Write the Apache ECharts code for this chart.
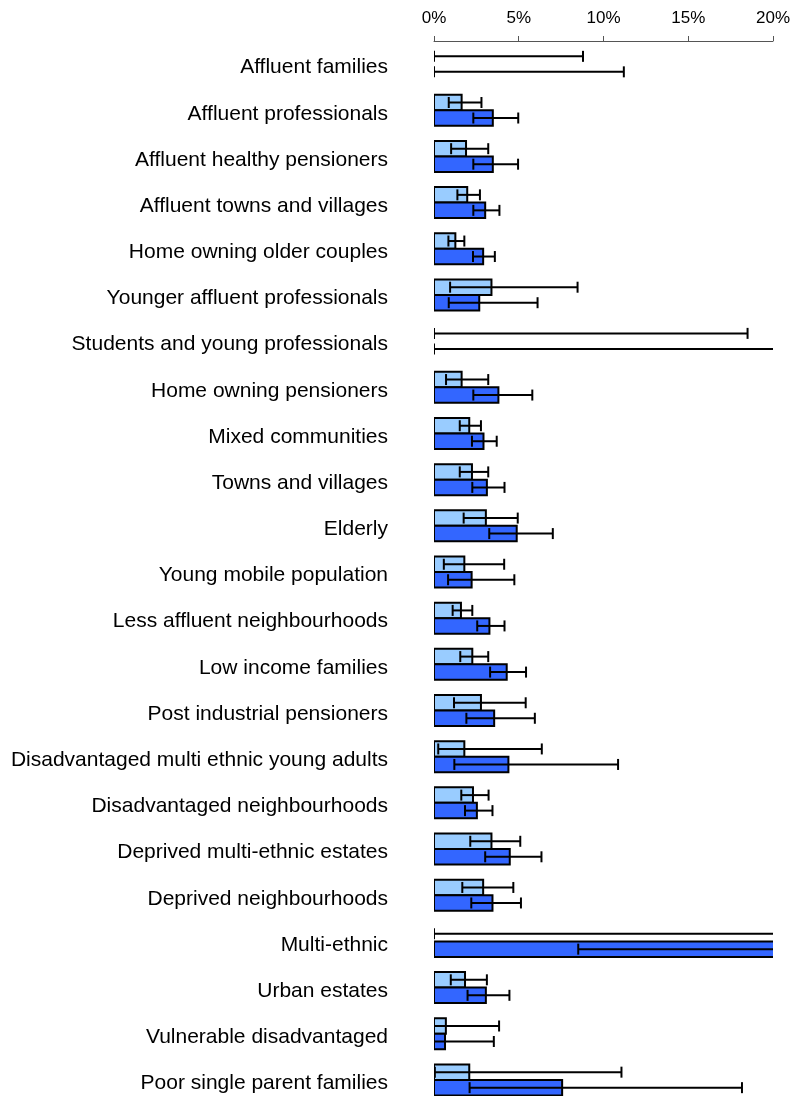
<!DOCTYPE html>
<html>
<head>
<meta charset="utf-8">
<script src="https://cdn.jsdelivr.net/npm/echarts@6/dist/echarts.min.js"></script>
<style>
html,body{margin:0;padding:0;background:#fff;overflow:hidden;}
#main{width:793px;height:1120px;}
</style>
</head>
<body>
<div id="main"></div>
<script>
var categories = [
  "Affluent families","Affluent professionals","Affluent healthy pensioners","Affluent towns and villages",
  "Home owning older couples","Younger affluent professionals","Students and young professionals",
  "Home owning pensioners","Mixed communities","Towns and villages","Elderly","Young mobile population",
  "Less affluent neighbourhoods","Low income families","Post industrial pensioners",
  "Disadvantaged multi ethnic young adults","Disadvantaged neighbourhoods","Deprived multi-ethnic estates",
  "Deprived neighbourhoods","Multi-ethnic","Urban estates","Vulnerable disadvantaged","Poor single parent families"
];
// light blue series (upper bar in each pair)
var lightValues = [0, 1.63, 1.89, 1.96, 1.26, 3.39, 0, 1.63, 2.08, 2.24, 3.06, 1.79, 1.59, 2.26, 2.77, 1.79, 2.30, 3.39, 2.90, 0, 1.83, 0.70, 2.08];
var lightLow    = [0, 0.87, 1.01, 1.38, 0.85, 0.95, 0, 0.71, 1.52, 1.52, 1.75, 0.58, 1.10, 1.55, 1.18, 0.25, 1.61, 2.14, 1.67, 0, 0.99, 0, 0.05];
var lightHigh   = [8.79, 2.80, 3.20, 2.71, 1.79, 8.47, 18.5, 3.20, 2.77, 3.20, 4.94, 4.14, 2.26, 3.20, 5.41, 6.36, 3.22, 5.09, 4.68, 40, 3.12, 3.84, 11.06];
// dark blue series (lower bar in each pair)
var blueValues = [0, 3.47, 3.47, 3.02, 2.90, 2.67, 0, 3.80, 2.92, 3.12, 4.88, 2.22, 3.27, 4.29, 3.55, 4.39, 2.53, 4.47, 3.45, 26, 3.06, 0.65, 7.56];
var blueLow    = [0, 2.32, 2.32, 2.32, 2.30, 0.87, 0, 2.32, 2.24, 2.26, 3.26, 0.83, 2.55, 3.31, 1.91, 1.20, 1.83, 3.02, 2.20, 8.51, 1.98, 0, 2.10];
var blueHigh   = [11.2, 4.97, 4.96, 3.86, 3.59, 6.11, 24, 5.80, 3.70, 4.16, 7.01, 4.74, 4.16, 5.43, 5.95, 10.86, 3.45, 6.34, 5.13, 50, 4.45, 3.53, 18.17];
var xTicks = [0, 5, 10, 15, 20];

var BAR_H = 15.5;
function makeSeries(name, color, vals, lows, highs, upper) {
  var data = categories.map(function (c, i) { return [vals[i], i, lows[i], highs[i]]; });
  return {
    type: 'custom', name: name, clip: true,
    encode: { x: 0, y: 1 },
    data: data,
    renderItem: function (params, api) {
      var v = api.value(0), i = api.value(1), lo = api.value(2), hi = api.value(3);
      var p0 = api.coord([0, i]);
      var pv = api.coord([v, i]);
      var pl = api.coord([lo, i]);
      var ph = api.coord([hi, i]);
      var cy = p0[1];
      var top = upper ? cy - BAR_H : cy;
      var mid = top + BAR_H / 2;
      var children = [];
      if (v > 0) {
        children.push({
          type: 'rect',
          shape: { x: p0[0], y: top, width: pv[0] - p0[0], height: BAR_H },
          style: { fill: color, stroke: '#000', lineWidth: 2 }
        });
      }
      var capH = 11;
      children.push({ type: 'line', shape: { x1: pl[0], y1: mid, x2: ph[0], y2: mid }, style: { stroke: '#000', lineWidth: 2 } });
      children.push({ type: 'line', shape: { x1: pl[0], y1: mid - capH / 2, x2: pl[0], y2: mid + capH / 2 }, style: { stroke: '#000', lineWidth: 2 } });
      children.push({ type: 'line', shape: { x1: ph[0], y1: mid - capH / 2, x2: ph[0], y2: mid + capH / 2 }, style: { stroke: '#000', lineWidth: 2 } });
      return { type: 'group', children: children };
    }
  };
}

var chart = echarts.init(document.getElementById('main'), null, { renderer: 'canvas' });
chart.setOption({
  animation: false,
  backgroundColor: '#fff',
  grid: { left: 434, top: 41, width: 341, height: 1062, containLabel: false },
  xAxis: {
    type: 'value', position: 'top', min: xTicks[0], max: xTicks[xTicks.length - 1], interval: 5,
    axisLine: { show: true, lineStyle: { color: '#555', width: 1 } },
    axisTick: { show: true, length: 5, lineStyle: { color: '#555' } },
    splitLine: { show: false },
    axisLabel: { formatter: '{value}%', fontSize: 17, color: '#000', fontFamily: 'Liberation Sans', margin: 14 }
  },
  yAxis: {
    type: 'category', inverse: true, data: categories,
    axisLine: { show: false }, axisTick: { show: false }, splitLine: { show: false },
    axisLabel: {
      margin: 46,
      formatter: function (v) { return '{a|' + v + '}'; },
      rich: { a: { fontSize: 21, color: '#000', fontFamily: 'Liberation Sans', padding: [7, 0, 0, 0] } }
    }
  },
  series: [
    makeSeries('Light', '#99CCFF', lightValues, lightLow, lightHigh, true),
    makeSeries('Dark', '#3366FF', blueValues, blueLow, blueHigh, false)
  ]
});
</script>
</body>
</html>
